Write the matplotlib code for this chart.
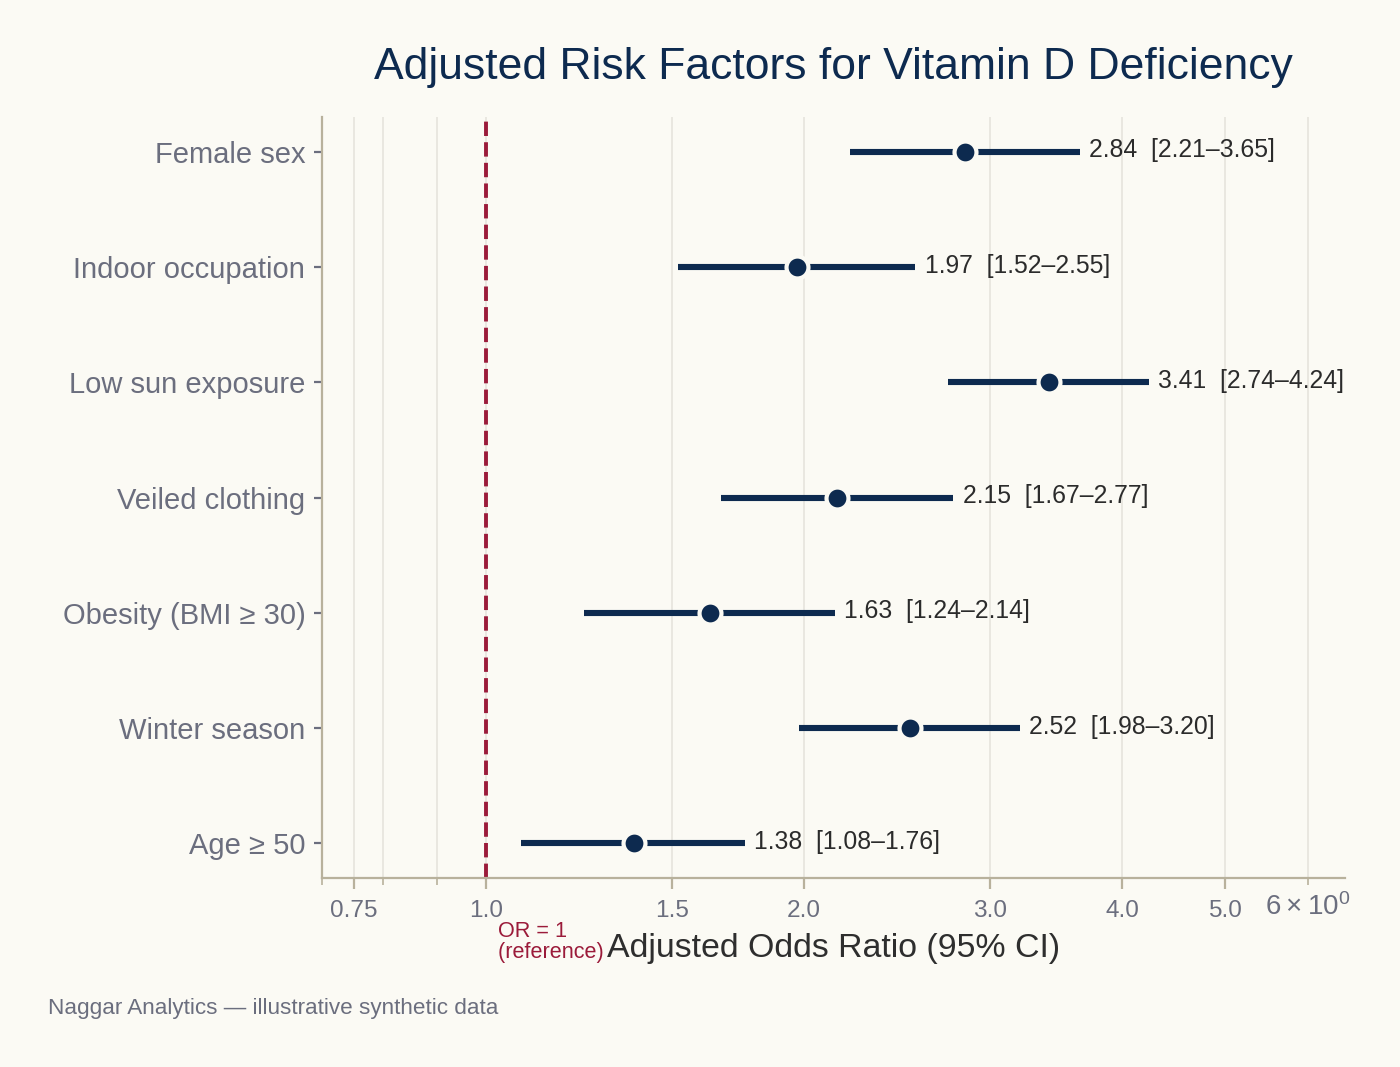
import matplotlib
matplotlib.use("Agg")
import matplotlib.pyplot as plt
from matplotlib.ticker import FixedLocator, FixedFormatter

plt.rcParams['font.family'] = ['Liberation Sans', 'DejaVu Sans']

factors = ["Female sex", "Indoor occupation", "Low sun exposure", "Veiled clothing",
           "Obesity (BMI \u2265 30)", "Winter season", "Age \u2265 50"]
odds = [2.84, 1.97, 3.41, 2.15, 1.63, 2.52, 1.38]
ci_low = [2.21, 1.52, 2.74, 1.67, 1.24, 1.98, 1.08]
ci_high = [3.65, 2.55, 4.24, 2.77, 2.14, 3.20, 1.76]
major_ticks = [0.75, 1.0, 1.5, 2.0, 3.0, 4.0, 5.0]
major_labels = ["0.75", "1.0", "1.5", "2.0", "3.0", "4.0", "5.0"]
minor_ticks = [0.7, 0.8, 0.9, 6.0]
minor_labels = ["", "", "", r"$\mathdefault{6\times10^{0}}$"]

BG = "#fbfaf4"
NAVY = "#0d2a4f"
RED = "#9b1b3a"
GRAY = "#6b6e7e"
SPINE = "#b8b19c"

fig = plt.figure(figsize=(7, 5.335), dpi=200, facecolor=BG)
ax = fig.add_axes([0.23, 0.1771, 0.7307, 0.7132])
ax.set_facecolor(BG)
ax.set_xscale("log")
ax.set_xlim(0.7, 6.5)
ax.set_ylim(6.3, -0.3)

ax.xaxis.set_major_locator(FixedLocator(major_ticks))
ax.xaxis.set_major_formatter(FixedFormatter(major_labels))
ax.xaxis.set_minor_locator(FixedLocator(minor_ticks))
ax.xaxis.set_minor_formatter(FixedFormatter(minor_labels))

ax.grid(True, which="both", axis="x", color="#e6e4dc", linewidth=0.6, zorder=0)
ax.grid(False, axis="y")

ypos = list(range(len(factors)))
ax.axvline(1.0, color=RED, linestyle="--", linewidth=1.4, zorder=2)

for y, o, lo, hi in zip(ypos, odds, ci_low, ci_high):
    ax.plot([lo, hi], [y, y], color=NAVY, linewidth=2.2, solid_capstyle="butt", zorder=3)
    ax.plot([o], [y], marker="o", markersize=7.9, color=NAVY,
            markeredgecolor=BG, markeredgewidth=1.5, zorder=4)
    ax.annotate(f"{o:.2f}  [{lo:.2f}\u2013{hi:.2f}]", xy=(hi, y), xytext=(3.3, 0.5),
                textcoords="offset points", ha="left", va="center",
                fontsize=8.9, color="#2b2b2b", zorder=5)

ax.set_yticks(ypos)
ax.set_yticklabels(factors, fontsize=10.5, color=GRAY)

for s in ["top", "right"]:
    ax.spines[s].set_visible(False)
for s in ["left", "bottom"]:
    ax.spines[s].set_color(SPINE)
    ax.spines[s].set_linewidth(0.8)

ax.tick_params(axis="y", which="both", length=3, width=0.8, color=GRAY, pad=3)
ax.tick_params(axis="x", which="major", length=4, width=0.8, color=SPINE,
               labelsize=8.8, labelcolor=GRAY, pad=4)
ax.tick_params(axis="x", which="minor", length=2.5, width=0.6, color=SPINE,
               labelsize=10, labelcolor=GRAY, pad=3)

ax.set_xlabel("Adjusted Odds Ratio (95% CI)", fontsize=12.2, color="#2e2e2e", labelpad=4)
ax.set_title("Adjusted Risk Factors for Vitamin D Deficiency", fontsize=16,
             color=NAVY, pad=13.8)

ax.text(1.0, -0.056, "  OR = 1\n  (reference)", transform=ax.get_xaxis_transform(),
        ha="left", va="top", fontsize=7.8, color=RED, linespacing=1.05)

fig.text(0.034, 0.055, "Naggar Analytics \u2014 illustrative synthetic data",
         fontsize=8.1, color=GRAY, ha="left", va="center")

fig.savefig("out.png", dpi=200, facecolor=BG)
